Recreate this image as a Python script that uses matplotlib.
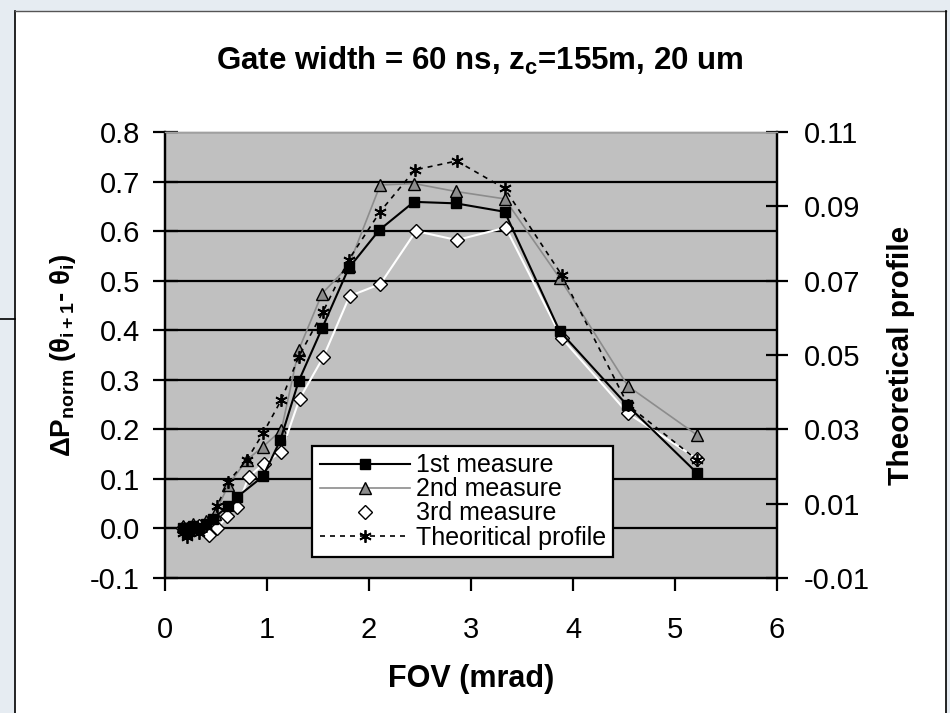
import matplotlib
matplotlib.use("Agg")
import matplotlib.pyplot as plt
from matplotlib.patches import Rectangle
from matplotlib.lines import Line2D

plt.rcParams['font.family'] = ['Liberation Sans', 'DejaVu Sans']
plt.rcParams['mathtext.fontset'] = 'custom'
plt.rcParams['mathtext.rm'] = 'Liberation Sans:bold'
plt.rcParams['mathtext.it'] = 'Liberation Sans:bold'
plt.rcParams['mathtext.bf'] = 'Liberation Sans:bold'

# 1st measure
x1 = [0.18, 0.22, 0.27, 0.33, 0.40, 0.47, 0.62, 0.71, 0.96, 1.13, 1.31, 1.54, 1.80, 2.10, 2.44, 2.85, 3.33, 3.87, 4.53, 5.22]
y1 = [0.00, -0.01, 0.005, 0.0, 0.01, 0.02, 0.045, 0.064, 0.105, 0.178, 0.297, 0.404, 0.525, 0.602, 0.659, 0.656, 0.639, 0.398, 0.249, 0.111]
# 2nd measure
x2 = [0.18, 0.22, 0.27, 0.33, 0.40, 0.49, 0.62, 0.80, 0.96, 1.14, 1.31, 1.54, 1.80, 2.11, 2.44, 2.85, 3.33, 3.87, 4.54, 5.22]
y2 = [0.005, 0.0, 0.01, 0.005, 0.015, 0.03, 0.087, 0.138, 0.165, 0.198, 0.36, 0.474, 0.53, 0.693, 0.696, 0.68, 0.665, 0.505, 0.287, 0.188]
# 3rd measure
x3 = [0.18, 0.22, 0.27, 0.33, 0.43, 0.51, 0.61, 0.71, 0.82, 0.97, 1.14, 1.32, 1.55, 1.81, 2.11, 2.46, 2.86, 3.34, 3.89, 4.54, 5.22]
y3 = [0.0, -0.005, 0.0, 0.005, -0.013, 0.0, 0.025, 0.044, 0.104, 0.131, 0.155, 0.262, 0.345, 0.469, 0.493, 0.600, 0.582, 0.607, 0.384, 0.232, 0.14]
# theoretical profile (right axis)
xt = [0.18, 0.22, 0.27, 0.33, 0.40, 0.51, 0.62, 0.80, 0.96, 1.14, 1.31, 1.55, 1.80, 2.11, 2.45, 2.86, 3.33, 3.89, 4.54, 5.22]
yt = [0.002, 0.001, 0.003, 0.002, 0.004, 0.0094, 0.0159, 0.0217, 0.0289, 0.0379, 0.0495, 0.0617, 0.0756, 0.0886, 0.0998, 0.1022, 0.0948, 0.0715, 0.0365, 0.0217]

left_ticks = [-0.1, 0.0, 0.1, 0.2, 0.3, 0.4, 0.5, 0.6, 0.7, 0.8]
right_ticks = [-0.01, 0.01, 0.03, 0.05, 0.07, 0.09, 0.11]

fig = plt.figure(figsize=(9.5, 7.13), dpi=100)
fig.patch.set_facecolor('white')

# slide frame around the chart
bg = '#e6ecf2'
fig.patches.append(Rectangle((0, 0), 15/950, 1, transform=fig.transFigure, facecolor=bg, edgecolor='none', zorder=-5))
fig.patches.append(Rectangle((0, 1 - 11/713), 1, 11/713, transform=fig.transFigure, facecolor=bg, edgecolor='none', zorder=-5))
fig.patches.append(Rectangle((946/950, 0), 4/950, 1, transform=fig.transFigure, facecolor=bg, edgecolor='none', zorder=-5))
fig.add_artist(Line2D([15/950, 15/950], [0, 1 - 11/713], transform=fig.transFigure, color='black', lw=1.2))
fig.add_artist(Line2D([15/950, 946/950], [1 - 11/713, 1 - 11/713], transform=fig.transFigure, color='#555555', lw=1.0))
fig.add_artist(Line2D([946/950, 946/950], [0, 1 - 11/713], transform=fig.transFigure, color='black', lw=1.2))
fig.add_artist(Line2D([0, 15/950], [1 - 319/713, 1 - 319/713], transform=fig.transFigure, color='black', lw=1.2))

ax = fig.add_axes([0.1737, 0.1893, 0.6442, 0.6256])
ax.set_facecolor('#c0c0c0')
ax.set_xlim(0, 6)
ax.set_ylim(-0.1, 0.8)
ax.set_yticks(left_ticks)
ax.set_yticklabels(['-0.1', '0.0', '0.1', '0.2', '0.3', '0.4', '0.5', '0.6', '0.7', '0.8'])
ax.set_xticks(range(0, 7))
for v in left_ticks[1:]:
    ax.axhline(v, color='black', lw=1.6, zorder=1)

l1, = ax.plot(x1, y1, color='black', lw=1.5, marker='s', markersize=7.5,
              markerfacecolor='black', markeredgecolor='black', zorder=4, label='1st measure')
l2, = ax.plot(x2, y2, color='#8c8c8c', lw=1.2, marker='^', markersize=8.5,
              markerfacecolor='#8c8c8c', markeredgecolor='black', zorder=3, label='2nd measure')
l3, = ax.plot(x3, y3, color='white', lw=1.5, marker='D', markersize=7,
              markerfacecolor='white', markeredgecolor='black', zorder=3, label='3rd measure')

ax2 = ax.twinx()
ax2.set_ylim(-0.01, 0.11)
ax2.set_yticks(right_ticks)
ax2.set_yticklabels(['-0.01', '0.01', '0.03', '0.05', '0.07', '0.09', '0.11'])
l4, = ax2.plot(xt, yt, color='black', lw=1.2, ls=(0, (3, 3)), marker=(6, 2, 0), markersize=9,
               markeredgewidth=1.3, markeredgecolor='black', zorder=5, label='Theoritical profile')

for a in (ax, ax2):
    for s in a.spines.values():
        s.set_color('black')
        s.set_linewidth(1.6)
    a.spines['top'].set_color('#a0a0a0')
    a.spines['top'].set_linewidth(1.0)

ax.tick_params(axis='y', direction='inout', length=18, width=1.6, labelsize=21, pad=9)
ax.tick_params(axis='x', direction='out', length=9, width=1.6, labelsize=21, pad=18)
ax2.tick_params(axis='y', direction='inout', length=16, width=1.6, labelsize=21, pad=11)

ax.set_xlabel('FOV (mrad)', fontsize=22, fontweight='bold', labelpad=15)
ax.set_ylabel(r'$\Delta$P$_{\mathrm{norm}}$ ($\theta_{\mathrm{i+1}}$- $\theta_{\mathrm{i}}$)',
              fontsize=20, fontweight='bold', labelpad=9)
ax2.set_ylabel('Theoretical profile', fontsize=21.5, fontweight='bold', labelpad=13)
fig.text(0.505, 0.914, r'Gate width = 60 ns, z$_{\mathrm{c}}$=155m, 20 um',
         ha='center', va='center', fontsize=22.5, fontweight='bold')

leg_handles = [
    Line2D([], [], color='black', lw=1.5, marker='s', markersize=7.5, markerfacecolor='black'),
    Line2D([], [], color='#8c8c8c', lw=1.2, marker='^', markersize=8.5, markerfacecolor='#8c8c8c', markeredgecolor='black'),
    Line2D([], [], color='white', lw=1.5, marker='D', markersize=7, markerfacecolor='white', markeredgecolor='black'),
    Line2D([], [], color='black', lw=1.2, ls=(0, (3, 3)), marker=(6, 2, 0), markersize=9, markeredgewidth=1.3),
]
leg = ax2.legend(leg_handles, ['1st measure', '2nd measure', '3rd measure', 'Theoritical profile'],
                 loc='upper left', bbox_to_anchor=(312/950, 1 - 446/713), bbox_transform=fig.transFigure,
                 fontsize=18, frameon=True, fancybox=False, edgecolor='black', framealpha=1,
                 handlelength=3.6, handletextpad=0.25, labelspacing=0.0, borderpad=0.3,
                 borderaxespad=0)
leg.get_frame().set_linewidth(1.6)
leg.set_zorder(10)

fig.savefig('out.png', dpi=100)
